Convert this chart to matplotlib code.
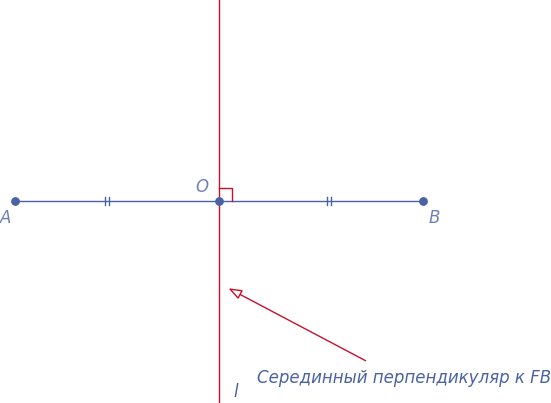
import matplotlib.pyplot as plt
from matplotlib.patches import FancyArrowPatch

# points in pixel coordinates of the drawing
point_names = ['A', 'O', 'B']
point_x = [15, 219, 423]
point_y = [201, 201, 201]
label_pos = [(6, 218), (202, 187), (434, 218)]
tick_x = [107, 329]
line_x = 219
caption = 'Серединный перпендикуляр к FB'

blue = '#4a62a3'
red = '#c8102e'

fig = plt.figure(figsize=(5.51, 4.03), dpi=100)
ax = fig.add_axes([0, 0, 1, 1])
ax.set_xlim(0, 551)
ax.set_ylim(403, 0)
ax.axis('off')

ax.plot([line_x, line_x], [0, 403], color=red, lw=1)
ax.plot(point_x[::2], point_y[::2], color=blue, lw=1)
ax.plot([219, 232, 232], [188, 188, 201], color=red, lw=1)
for tx in tick_x:
    for dx in (-2, 2):
        ax.plot([tx + dx, tx + dx], [197, 205], color=blue, lw=1)
ax.scatter(point_x, point_y, s=28, color=blue, zorder=5)

for name, (lx, ly) in zip(point_names, label_pos):
    ax.text(lx, ly, name, color=blue, fontsize=12, style='italic',
            ha='center', va='center', alpha=0.8)
ax.text(236, 392, 'l', color=blue, fontsize=12, style='italic', ha='center', va='center')

ax.add_patch(FancyArrowPatch((368, 362), (226, 287), arrowstyle='-|>,head_length=8,head_width=3',
                             color=red, lw=1, fc='white'))
ax.text(551, 378, caption, color=blue, fontsize=12, style='italic', ha='right', va='center')

fig.savefig('out.png', dpi=100)
